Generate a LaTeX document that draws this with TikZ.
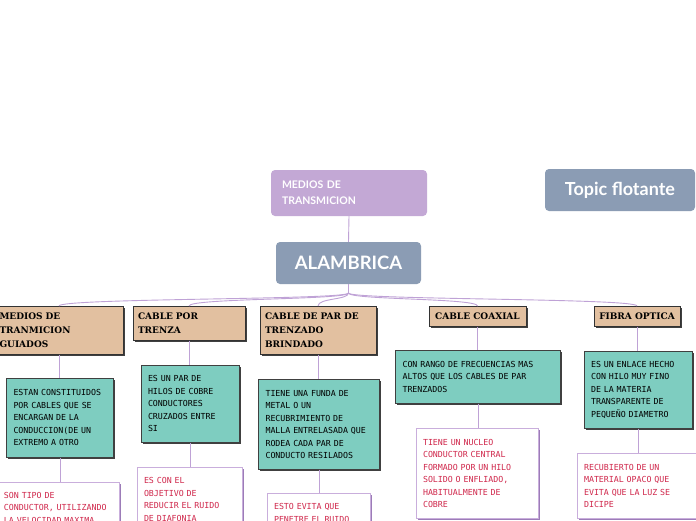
\documentclass[tikz,border=0pt]{standalone}
\usepackage{fontspec}
\setmainfont{Lato}
\newfontfamily\monof{DejaVu Sans Mono}
\newfontfamily\slabf{DejaVu Serif}
\usetikzlibrary{shadows,calc}
\definecolor{purp}{HTML}{C3A8D5}
\definecolor{slate}{HTML}{8B9CB4}
\definecolor{tanc}{HTML}{E2C0A0}
\definecolor{tealc}{HTML}{7ECDC0}
\definecolor{conn}{HTML}{BFA2D6}
\definecolor{wborder}{HTML}{C9AEDC}
\definecolor{wshadow}{HTML}{9C7CB8}
\definecolor{redtxt}{HTML}{D0284C}
\tikzset{
  title/.style={fill=purp, text=white, rounded corners=4pt, font=\bfseries\fontsize{10.5}{16}\selectfont, align=left, inner sep=0pt},
  mainbox/.style={fill=slate, text=white, rounded corners=4pt, inner sep=0pt},
  tanbox/.style={fill=tanc, draw=black!80, line width=0.6pt, anchor=north,
    drop shadow={shadow xshift=1.8pt, shadow yshift=-1.8pt, fill=black!75, opacity=1},
    font=\slabf\bfseries\fontsize{9}{14}\selectfont, align=left, inner xsep=5pt, inner ysep=0pt},
  tealbox/.style={fill=tealc, draw=black!75, line width=0.6pt, anchor=north,
    drop shadow={shadow xshift=1.8pt, shadow yshift=-1.8pt, fill=black!75, opacity=1},
    font=\monof\fontsize{8.3}{12.5}\selectfont, align=left, inner xsep=7pt, inner ysep=0pt},
  whitebox/.style={fill=white, draw=wborder, line width=0.8pt, anchor=north,
    drop shadow={shadow xshift=1.5pt, shadow yshift=-1.5pt, fill=wshadow, opacity=1},
    text=redtxt, font=\monof\fontsize{8.3}{12.5}\selectfont, align=left, inner xsep=7pt, inner ysep=0pt},
  link/.style={draw=conn, line width=0.9pt},
}
\begin{document}
\begin{tikzpicture}[x=1pt,y=-1pt]
\useasboundingbox (0,0) rectangle (696,520);
\fill[white] (0,0) rectangle (696,520);
\clip (0,0) rectangle (696,520);

% top
\node[title, minimum width=156pt, minimum height=46pt, text width=134pt] (M) at (349,193) {MEDIOS DE\\TRANSMICION};
\node[mainbox, minimum width=145pt, minimum height=42pt, font=\bfseries\fontsize{18.5}{22}\selectfont] (A) at (348.5,263) {ALAMBRICA};
\node[mainbox, minimum width=150pt, minimum height=42pt, font=\bfseries\fontsize{18}{21}\selectfont] (F) at (620,190) {Topic flotante};

% tan boxes
\node[tanbox, minimum width=129pt, minimum height=48pt, text width=119pt] (T1) at (59,306) {MEDIOS DE\\TRANMICION\\GUIADOS};
\node[tanbox, minimum width=112pt, minimum height=34pt, text width=102pt] (T2) at (189,306) {CABLE POR\\TRENZA};
\node[tanbox, minimum width=116pt, minimum height=48pt, text width=106pt] (T3) at (318,306) {CABLE DE PAR DE\\TRENZADO\\BRINDADO};
\node[tanbox, minimum width=97pt, minimum height=20pt, align=center] (T4) at (477.5,306) {CABLE COAXIAL};
\node[tanbox, minimum width=86pt, minimum height=20pt, align=center] (T5) at (637,306) {FIBRA OPTICA};

% teal boxes
\node[tealbox, minimum width=107pt, minimum height=79pt, text width=93pt] (C1) at (60,378) {ESTAN CONSTITUIDOS\\POR CABLES QUE SE\\ENCARGAN DE LA\\CONDUCCION(DE UN\\EXTREMO A OTRO};
\node[tealbox, minimum width=98pt, minimum height=77pt, text width=84pt] (C2) at (190,365) {ES UN PAR DE\\HILOS DE COBRE\\CONDUCTORES\\CRUZADOS ENTRE\\SI};
\node[tealbox, minimum width=121pt, minimum height=90pt, text width=107pt] (C3) at (319,379) {TIENE UNA FUNDA DE\\METAL O UN\\RECUBRIMIENTO DE\\MALLA ENTRELASADA QUE\\RODEA CADA PAR DE\\CONDUCTO RESILADOS};
\node[tealbox, minimum width=165pt, minimum height=53pt, text width=151pt] (C4) at (478,350) {CON RANGO DE FRECUENCIAS MAS\\ALTOS QUE LOS CABLES DE PAR\\TRENZADOS};
\node[tealbox, minimum width=108pt, minimum height=77pt, text width=94pt] (C5) at (638,351) {ES UN ENLACE HECHO\\CON HILO MUY FINO\\DE LA MATERIA\\TRANSPARENTE DE\\PEQUEÑO DIAMETRO};

% white boxes
\node[whitebox, minimum width=125pt, minimum height=51pt, text width=105pt, inner xsep=10pt] (W1) at (56.5,482) {SON TIPO DE\\CONDUCTOR, UTILIZANDO\\LA VELOCIDAD MAXIMA};
\node[whitebox, minimum width=105pt, minimum height=64pt, text width=91pt] (W2) at (189.5,467) {ES CON EL\\OBJETIVO DE\\REDUCIR EL RUIDO\\DE DIAFONIA};
\node[whitebox, minimum width=103pt, minimum height=39pt, text width=89pt] (W3) at (318.5,493) {ESTO EVITA QUE\\PENETRE EL RUIDO};
\node[whitebox, minimum width=122pt, minimum height=90pt, text width=108pt] (W4) at (477,428) {TIENE UN NUCLEO\\CONDUCTOR CENTRAL\\FORMADO POR UN HILO\\SOLIDO O ENFLIADO,\\HABITUALMENTE DE\\COBRE};
\node[whitebox, minimum width=123pt, minimum height=65pt, text width=109pt] (W5) at (638.5,453) {RECUBIERTO DE UN\\MATERIAL OPACO QUE\\EVITA QUE LA LUZ SE\\DICIPE};

% connectors
\draw[link] (M.south) -- (A.north);
\coordinate (hub) at (348.5,293);
\draw[link] (A.south) -- (hub);
\foreach \t in {T1,T2,T3,T4,T5}{
  \draw[link] (hub) .. controls ($(hub)+(0,7)$) and ($(\t.north)+(0,-8)$) .. (\t.north);
}
\foreach \a/\b in {T1/C1,T2/C2,T3/C3,T4/C4,T5/C5,C1/W1,C2/W2,C3/W3,C4/W4,C5/W5}{
  \draw[link] (\a.south) -- (\a.south |- \b.north);
}
\end{tikzpicture}
\end{document}
